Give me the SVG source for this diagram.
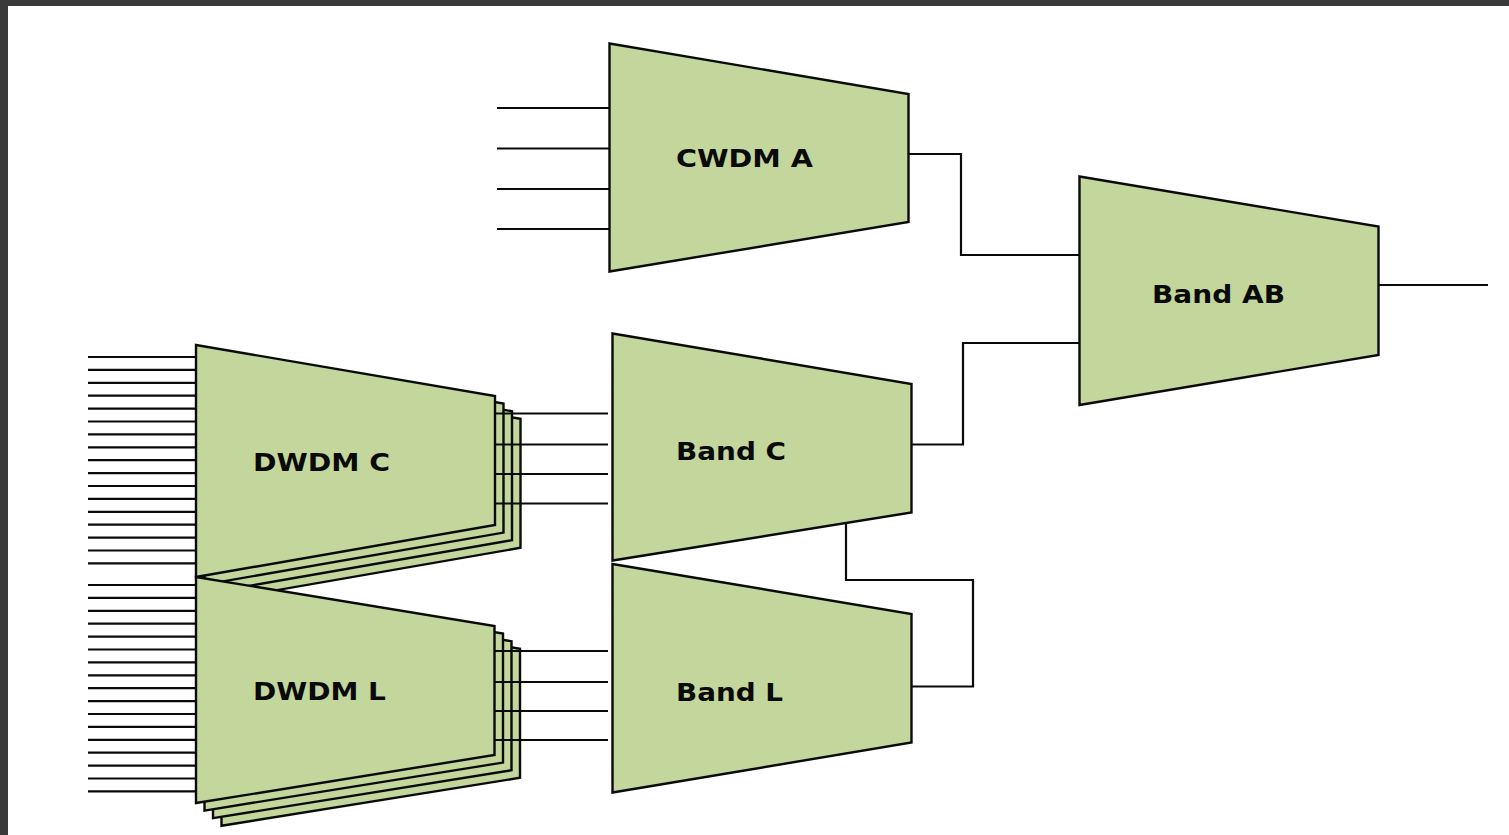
<svg xmlns="http://www.w3.org/2000/svg" width="1509" height="835" viewBox="0 0 1509 835">
<style>
.shape{fill:#c3d69b;stroke:#0a0a0a;stroke-width:2.4;stroke-linejoin:miter}
.wire{fill:none;stroke:#0a0a0a;stroke-width:2.2}
.lbl{font-family:"DejaVu Sans","Liberation Sans",sans-serif;font-weight:bold;font-size:24px;fill:#0a0a0a}
</style>
<rect x="0" y="0" width="1509" height="835" fill="#ffffff"/>
<rect x="0" y="0" width="1509" height="6" fill="#3a3a3a"/>
<rect x="0" y="0" width="8" height="835" fill="#3a3a3a"/>

<g id="dwdm-c">
<polygon class="shape" points="221.5,367.8 520.5,418.8 520.5,547.8 221.5,599.8"/>
<polygon class="shape" points="213,360.2 512,411.2 512,540.2 213,592.2"/>
<polygon class="shape" points="204.5,352.6 503.5,403.6 503.5,532.6 204.5,584.6"/>
<polygon class="shape" points="196,345 495,396 495,525 196,577"/>
<text class="lbl" x="253" y="471" textLength="137" lengthAdjust="spacingAndGlyphs">DWDM C</text>
</g>

<g id="dwdm-l">
<polygon class="shape" points="221.5,599.8 520,648.8 520,777.8 221.5,825.8"/>
<polygon class="shape" points="213,592.2 511.5,641.2 511.5,770.2 213,818.2"/>
<polygon class="shape" points="204.5,584.6 503,633.6 503,762.6 204.5,810.6"/>
<polygon class="shape" points="196,577 494.5,626 494.5,755 196,803"/>
<text class="lbl" x="253" y="700" textLength="133" lengthAdjust="spacingAndGlyphs">DWDM L</text>
</g>

<g id="cwdm-a">
<polygon class="shape" points="609.5,43.5 908.5,94 908.5,222 609.5,271.5"/>
<text class="lbl" x="676" y="167" textLength="137" lengthAdjust="spacingAndGlyphs">CWDM A</text>
</g>

<g id="band-c">
<polygon class="shape" points="612.5,333.5 911.5,384 911.5,512.5 612.5,560.5"/>
<text class="lbl" x="676" y="460" textLength="110" lengthAdjust="spacingAndGlyphs">Band C</text>
</g>

<g id="band-l">
<polygon class="shape" points="612.5,564 911.5,614 911.5,742.5 612.5,792.5"/>
<text class="lbl" x="676" y="700.5" textLength="107" lengthAdjust="spacingAndGlyphs">Band L</text>
</g>

<g id="band-ab">
<polygon class="shape" points="1079.5,176.5 1378.5,226.5 1378.5,355 1079.5,405"/>
<text class="lbl" x="1152" y="302.5" textLength="133" lengthAdjust="spacingAndGlyphs">Band AB</text>
</g>

<g id="connectors" class="wire">
<path d="M497,108H609.5M497,148.5H609.5M497,189H609.5M497,229H609.5"/>
<path d="M908.5,154H961V255H1079.5"/>
<path d="M911.5,444.5H963V343H1079.5"/>
<path d="M1378.5,285H1488"/>
<path d="M911.5,686.5H973V580H846V523"/>
<path d="M495,413.5H608M495,444.5H608M495,474H608M495,503.5H608"/>
<path d="M494.5,651H608M494.5,682H608M494.5,711H608M494.5,740H608"/>
<path d="M88,357H196M88,369.9H196M88,382.8H196M88,395.7H196M88,408.6H196M88,421.5H196M88,434.4H196M88,447.3H196M88,460.2H196M88,473.1H196M88,486H196M88,498.9H196M88,511.8H196M88,524.7H196M88,537.6H196M88,550.5H196M88,563.4H196"/>
<path d="M88,585H196M88,597.9H196M88,610.8H196M88,623.7H196M88,636.6H196M88,649.5H196M88,662.4H196M88,675.3H196M88,688.2H196M88,701.1H196M88,714H196M88,726.9H196M88,739.8H196M88,752.7H196M88,765.6H196M88,778.5H196M88,791.4H196"/>
</g>
</svg>
